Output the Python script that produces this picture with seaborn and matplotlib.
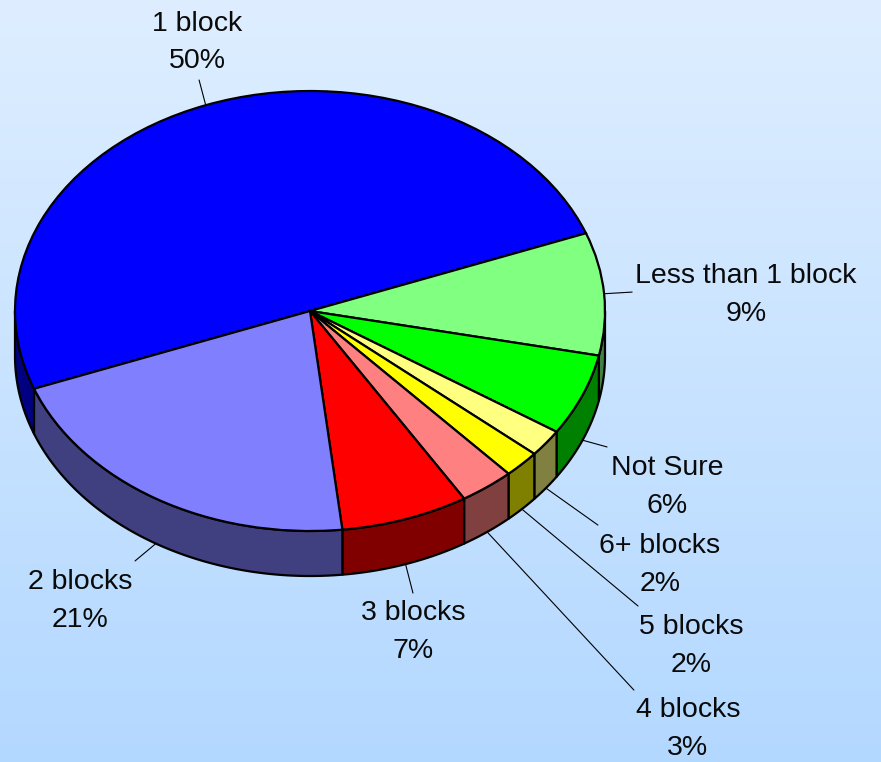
import numpy as np
import matplotlib
matplotlib.use("Agg")
import matplotlib.pyplot as plt
from matplotlib.patches import Polygon
import seaborn as sns

# Survey answers: how far people would walk
categories = ["1 block", "Less than 1 block", "Not Sure", "6+ blocks",
              "5 blocks", "4 blocks", "3 blocks", "2 blocks"]
percent = [50, 9, 6, 2, 2, 3, 7, 21]
top_colors = ["#0000FF", "#80FF80", "#00FF00", "#FFFF80",
              "#FFFF00", "#FF8080", "#FF0000", "#8080FF"]

# Label anchors and leader-line ends, in pie-radius units
label_pos = [(-0.381, 1.220), (1.478, 0.073), (1.210, -0.800), (1.186, -1.155),
             (1.292, -1.523), (1.281, -1.900), (0.349, -1.459), (-0.780, -1.318)]
leader_end = [(-0.376, 1.050), (1.092, 0.086), (1.007, -0.618), (0.976, -0.973),
              (1.112, -1.341), (1.098, -1.723), (0.349, -1.282), (-0.593, -1.136)]

sns.set_theme(style="white")
plt.rcParams["font.family"] = ["Liberation Sans", "DejaVu Sans"]

W, H = 881, 762
fig = plt.figure(figsize=(W / 100, H / 100), dpi=100)

# Vertical light-blue gradient background
bg = fig.add_axes([0, 0, 1, 1], zorder=0)
top_rgb = np.array([222, 238, 255]) / 255
bot_rgb = np.array([179, 216, 255]) / 255
t = np.linspace(0, 1, 256)[:, None, None]
grad = top_rgb * (1 - t) + bot_rgb * t
grad = np.repeat(grad, 2, axis=1)
bg.imshow(grad, aspect="auto", extent=[0, 1, 0, 1])
bg.axis("off")

ax = fig.add_axes([0, 0, 1, 1], zorder=1)
ax.set_facecolor("none")

# Tilted-disc geometry (pixel layout of the ellipse)
cx, cy, rx, ry, depth = 310.0, 311.0, 295.0, 220.0, 45.0
d = depth / ry
start = 200.7

side_colors = [tuple(np.array(matplotlib.colors.to_rgb(c)) * 0.5) for c in top_colors]

# Wedge angle ranges (clockwise from start)
fr = np.array(percent, dtype=float) / sum(percent) * 360.0
hi = start - np.concatenate([[0], np.cumsum(fr)[:-1]])
lo = hi - fr

# Visible front rim of each wedge
for a_hi, a_lo, sc in zip(hi, lo, side_colors):
    for f_lo, f_hi in [(-180.0, 0.0), (180.0, 360.0)]:
        s, e = max(a_lo, f_lo), min(a_hi, f_hi)
        if e - s <= 1e-6:
            continue
        tt = np.radians(np.linspace(s, e, 120))
        xs = np.cos(tt)
        ys = np.sin(tt)
        pts = np.concatenate([np.column_stack([xs, ys]),
                              np.column_stack([xs[::-1], ys[::-1] - d])])
        ax.add_patch(Polygon(pts, closed=True, facecolor=sc, edgecolor="black",
                             linewidth=1.6, joinstyle="round", zorder=1))

# Top face
wedges, _ = ax.pie(percent, colors=top_colors, startangle=start, counterclock=False,
                   radius=1.0, center=(0, 0),
                   wedgeprops=dict(edgecolor="black", linewidth=1.6, zorder=2))

# Labels with leader lines
for name, p, a_hi, a_lo, lp, le in zip(categories, percent, hi, lo, label_pos, leader_end):
    mid = np.radians((a_hi + a_lo) / 2)
    ex, ey = np.cos(mid), np.sin(mid)
    if ey < 0:
        ey -= d
    ax.plot([ex, le[0]], [ey, le[1]], color="black", linewidth=0.8, zorder=3)
    ax.text(lp[0], lp[1], f"{name}\n{p}%", ha="center", va="center",
            multialignment="center", fontsize=20.5, color="#0a0a0a",
            linespacing=1.58, zorder=4)

# Map pie units onto the canvas
ax.set_xlim((0 - cx) / rx, (W - cx) / rx)
ax.set_ylim((cy - H) / ry, cy / ry)
ax.set_aspect("auto")
ax.axis("off")

fig.savefig("out.png", dpi=100)
